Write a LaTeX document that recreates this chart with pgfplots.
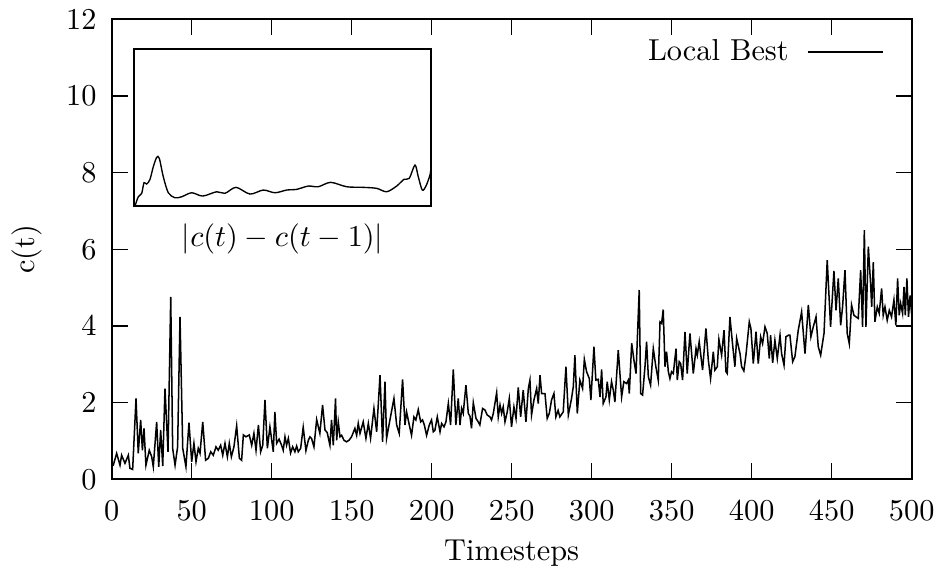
\documentclass[border=0pt]{standalone}
\usepackage{pgfplots}
\usepackage{pgfplotstable}
\pgfplotsset{compat=1.18}
\pgfplotstableread{
t v
0 0.35
1.0 0.37
3.1 0.68
5.2 0.37
6.2 0.63
8.3 0.42
10.4 0.63
11.4 0.29
13.1 0.26
15.2 2.11
16.6 0.68
18.1 1.55
19.2 0.76
20.2 1.33
21.4 0.37
23.5 0.76
25.0 0.59
26.0 0.33
28.1 1.50
29.4 0.33
30.6 1.29
31.9 0.35
33.3 2.37
35.2 0.72
36.9 4.76
38.1 0.81
39.6 0.37
41.2 0.85
42.7 4.24
44.4 0.81
46.4 0.33
48.3 1.48
50.0 0.46
51.4 0.94
52.7 0.46
54.1 0.81
55.2 0.68
56.9 1.50
58.7 0.50
60.4 0.55
61.9 0.72
63.5 0.63
65.2 0.85
66.6 0.76
68.1 0.89
69.4 0.63
70.8 0.94
72.3 0.59
73.5 0.94
74.8 0.59
76.4 0.85
78.1 1.40
79.8 0.55
81.2 0.50
82.3 1.16
83.9 1.11
86.0 1.16
87.5 0.89
88.9 1.20
90.2 0.76
91.7 1.42
93.1 0.72
94.4 0.89
95.8 2.07
97.3 0.81
98.9 1.37
101.0 0.72
102.0 1.76
103.1 0.94
104.6 1.05
106.2 0.89
107.2 0.76
108.3 1.11
109.3 0.89
110.4 1.07
111.8 0.69
113.1 0.85
114.5 0.72
115.6 0.87
116.6 0.72
118.1 0.81
119.7 1.36
121.4 0.75
122.9 1.02
123.9 1.11
124.9 1.07
126.4 0.85
128.1 1.56
130.1 1.20
131.8 1.94
133.3 1.29
134.7 1.22
136.4 0.89
137.4 1.55
138.5 0.89
139.9 2.11
140.6 1.02
141.6 1.50
142.7 1.11
143.7 1.15
145.2 1.02
146.8 0.98
148.3 1.02
149.9 1.11
152.0 1.33
153.1 1.15
154.1 1.46
155.2 1.20
157.2 1.50
158.9 1.07
160.4 1.46
161.8 1.07
163.9 1.85
165.6 1.24
167.7 2.72
169.3 0.98
170.8 2.55
171.8 1.07
173.9 1.55
176.4 2.11
178.1 1.42
179.7 1.20
181.8 2.61
183.3 1.42
184.3 1.76
186.0 1.42
187.4 1.15
188.9 1.63
190.1 1.55
191.6 1.82
193.1 1.50
194.3 1.55
195.4 1.42
196.8 1.15
198.5 1.42
199.9 1.55
201.0 1.24
202.0 1.28
203.5 1.63
205.2 1.24
206.2 1.46
207.7 1.37
208.9 1.50
210.4 1.98
211.8 1.42
213.5 2.87
215.1 1.42
216.6 2.11
217.7 1.42
218.7 1.85
219.7 1.72
221.4 2.46
222.9 1.72
223.9 1.65
224.9 1.33
226.0 2.00
227.7 1.59
229.1 1.50
230.1 1.42
231.8 1.85
233.3 1.81
234.7 1.68
236.4 1.63
237.4 1.55
238.5 1.72
240.6 2.26
241.6 1.63
242.7 1.94
243.7 1.72
244.7 1.89
245.8 1.50
247.2 1.76
248.5 2.11
249.9 1.37
251.4 1.89
252.7 1.59
254.1 2.40
255.6 1.63
257.2 2.33
258.9 1.50
260.4 2.37
261.4 2.59
262.4 1.68
263.9 2.07
265.6 2.37
266.6 1.98
267.7 2.72
268.7 2.24
270.8 2.24
272.2 1.59
273.5 1.72
274.9 2.07
276.4 2.24
277.6 1.63
279.0 1.80
280.1 1.63
282.2 1.76
283.9 2.94
285.4 1.68
287.4 2.11
288.5 2.42
289.5 3.24
291.0 1.72
292.6 2.59
294.3 2.37
295.4 3.13
296.8 2.81
298.5 2.63
299.5 2.07
301.4 3.46
302.6 2.59
304.1 2.61
305.2 2.15
306.2 2.87
307.2 1.98
308.9 2.15
309.7 2.55
311.0 2.07
312.4 2.55
313.5 2.33
314.5 2.02
316.6 3.37
318.7 2.15
320.1 2.55
321.8 2.50
322.9 2.59
323.5 2.24
325.0 3.55
326.4 3.11
327.7 2.76
329.7 4.94
330.6 2.24
331.8 2.20
333.3 2.94
334.3 3.59
335.4 2.68
336.8 2.46
338.5 3.41
340.1 2.94
341.6 2.59
342.7 4.11
343.7 4.07
344.7 4.43
345.8 2.94
346.8 3.33
347.9 2.81
348.9 2.63
349.9 2.81
351.0 2.76
352.7 3.41
353.5 2.59
354.7 3.07
355.6 3.02
356.8 2.59
358.3 3.85
359.7 2.76
361.4 3.81
363.5 2.76
365.2 3.41
366.0 3.24
367.2 3.59
369.3 2.85
371.4 3.94
372.9 3.11
374.3 2.63
376.0 3.33
377.0 2.85
378.5 2.94
379.5 3.65
381.2 3.24
382.7 3.89
383.9 2.81
384.7 2.76
386.4 4.24
388.1 3.50
389.5 2.94
390.6 3.68
392.7 3.28
393.7 2.94
395.1 2.83
396.4 3.24
398.5 4.11
399.5 3.94
401.0 3.02
402.7 3.85
404.1 3.02
405.6 3.72
406.8 3.54
408.3 3.98
409.7 3.81
411.0 3.15
411.8 3.76
413.1 3.04
414.5 3.63
416.0 3.15
417.7 3.76
418.7 3.28
420.2 2.98
421.4 3.72
422.9 3.76
423.9 3.76
425.6 3.07
427.0 3.20
429.1 3.89
431.2 4.37
433.3 3.28
435.4 4.55
437.0 3.72
438.5 3.98
440.2 4.24
441.6 3.46
443.1 3.24
445.2 3.81
447.2 5.72
449.3 3.98
451.4 5.44
452.7 4.41
454.1 5.24
455.6 4.02
456.8 4.50
458.3 5.46
459.7 3.81
461.0 3.54
462.4 4.55
463.9 4.28
465.2 4.24
466.6 4.20
468.1 5.46
469.3 3.98
470.4 6.50
471.4 3.98
472.9 6.07
474.3 5.11
475.0 4.50
476.0 5.67
477.0 4.11
478.5 4.50
479.7 4.33
481.2 4.98
482.2 4.28
483.3 4.50
484.7 4.15
486.0 4.41
487.4 4.24
488.9 4.68
490.1 4.02
491.2 5.24
492.2 4.28
493.1 4.59
494.3 4.33
495.2 5.02
496.0 4.28
497.0 5.24
498.0 4.24
499.0 4.80
500.0 4.30
}\localbest
\pgfplotstableread{
x y
135 0
138.3 9.3
141.7 12.7
144 23.3
146.7 22
150 26.7
153.3 39.3
156.7 48.7
159.3 47.7
163.3 29.3
168.3 13.3
175 8.3
181.7 9.3
191.7 13.3
202.7 10
216.7 14.3
225 12.7
236 18.7
250 12
263.3 16
275 13.3
286.7 16
296.7 16.7
308.3 20
318.3 19.3
330.7 23.7
346.7 19.3
363.3 18.7
376.7 17.7
386.7 14.3
396.7 20
404 26.7
409.3 27.7
415 41
418.3 29.3
422.3 16
426 20
430 31
431 38
}\insetdata
\begin{document}
\begin{tikzpicture}
\useasboundingbox (-36.86pt,-31.25pt) rectangle (274.0pt,158.2pt);
\begin{axis}[
  scale only axis,
  width=264.0pt, height=151.8pt,
  xmin=0, xmax=500, ymin=0, ymax=12,
  xtick={0,50,...,500}, ytick={0,2,...,12},
  minor tick num=0,
  major tick length=5.3pt,
  tick style={line width=0.4pt, black},
  axis line style={line width=0.6pt},
  yticklabel style={xshift=-1.5pt},
  xticklabel style={yshift=-3.6pt},
  xlabel={Timesteps}, ylabel={c(t)},
  xlabel style={at={(axis description cs:0.5,-0.161)}, anchor=center},
  ylabel style={at={(axis description cs:-0.106,0.5)}, anchor=center},
  legend plot pos=right,
  legend style={draw=none, fill=none, at={(axis description cs:0.9654,0.9296)}, anchor=east, inner sep=0pt},
  legend image code/.code={\path (0pt,0pt); \draw[#1] (4pt,0pt) -- (28.75pt,0pt);},
]
\addplot[black, line width=0.5pt] table[x=t, y=v] {\localbest};
\addlegendentry{Local Best}
\end{axis}
\begin{axis}[
  at={(7.36pt,90.2pt)}, anchor=south west,
  scale only axis,
  width=98.0pt, height=51.8pt,
  xmin=134, xmax=431, ymin=0, ymax=157,
  xtick=\empty, ytick=\empty,
  axis line style={line width=0.6pt},
  axis background/.style={fill=white},
  xlabel={$|c(t)-c(t-1)|$},
  xlabel style={at={(axis description cs:0.5,0)}, anchor=center, yshift=-10.9pt},
]
\addplot[black, line width=0.45pt, smooth] table[x=x, y=y] {\insetdata};
\end{axis}
\end{tikzpicture}
\end{document}
